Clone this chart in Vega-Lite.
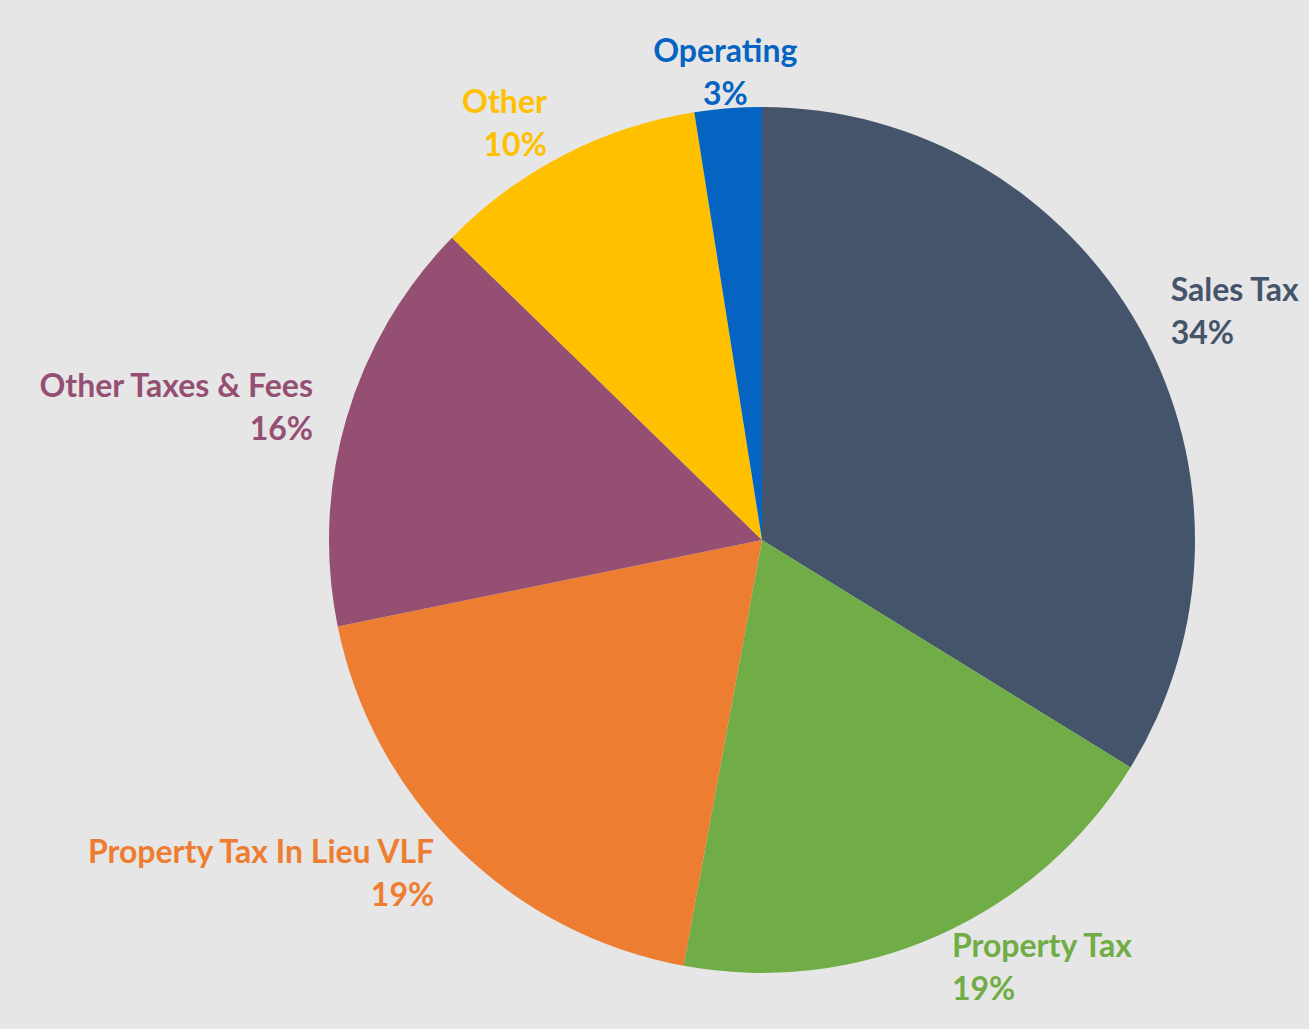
{
  "$schema": "https://vega.github.io/schema/vega-lite/v6.json",
  "width": 1094,
  "height": 978,
  "autosize": {"type": "none"},
  "padding": {"left": 215, "top": 51, "right": 0, "bottom": 0},
  "background": "#e7e6e6",
  "view": {"stroke": null},
  "data": {
    "values": [
      {"rank": 1, "category": "Sales Tax", "share": 33.8, "pct": "34%"},
      {"rank": 2, "category": "Property Tax", "share": 19.1, "pct": "19%"},
      {"rank": 3, "category": "Property Tax In Lieu VLF", "share": 18.9, "pct": "19%"},
      {"rank": 4, "category": "Other Taxes & Fees", "share": 15.5, "pct": "16%"},
      {"rank": 5, "category": "Other", "share": 10.2, "pct": "10%"},
      {"rank": 6, "category": "Operating", "share": 2.5, "pct": "3%"}
    ]
  },
  "encoding": {
    "theta": {"field": "share", "type": "quantitative", "stack": true},
    "order": {"field": "rank", "type": "quantitative", "sort": "ascending"},
    "color": {
      "field": "category",
      "type": "nominal",
      "legend": null,
      "scale": {
        "domain": ["Sales Tax", "Property Tax", "Property Tax In Lieu VLF", "Other Taxes & Fees", "Other", "Operating"],
        "range": ["#44546a", "#70ad47", "#ed7d31", "#954f72", "#ffc000", "#0563c1"]
      }
    }
  },
  "layer": [
    {"mark": {"type": "arc", "outerRadius": 433, "stroke": null}},
    {
      "mark": {
        "type": "text",
        "radius": 468,
        "dy": -21,
        "font": "Lato",
        "fontWeight": "bold",
        "fontSize": 32,
        "baseline": "middle",
        "align": {"expr": "sin(PI * (datum.share_start + datum.share_end) / 100) > 0.3 ? 'left' : (sin(PI * (datum.share_start + datum.share_end) / 100) < -0.3 ? 'right' : 'center')"}
      },
      "encoding": {"text": {"field": "category", "type": "nominal"}}
    },
    {
      "mark": {
        "type": "text",
        "radius": 468,
        "dy": 22,
        "font": "Lato",
        "fontWeight": "bold",
        "fontSize": 32,
        "baseline": "middle",
        "align": {"expr": "sin(PI * (datum.share_start + datum.share_end) / 100) > 0.3 ? 'left' : (sin(PI * (datum.share_start + datum.share_end) / 100) < -0.3 ? 'right' : 'center')"}
      },
      "encoding": {"text": {"field": "pct", "type": "nominal"}}
    }
  ]
}
